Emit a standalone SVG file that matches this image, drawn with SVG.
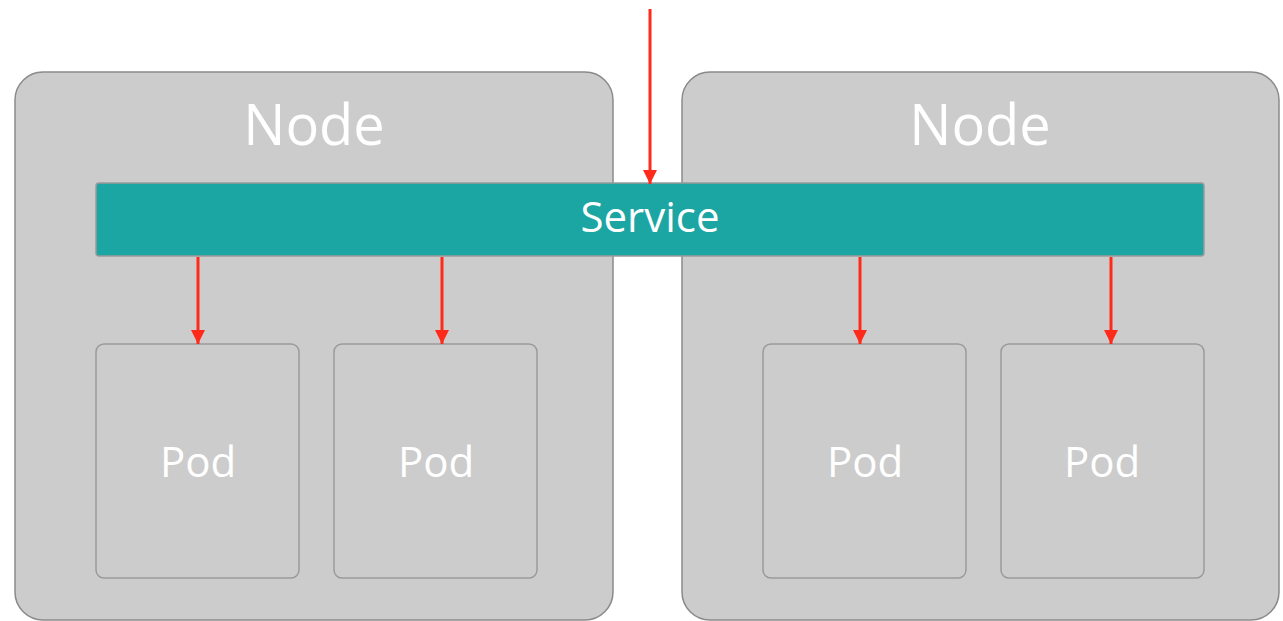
<svg xmlns="http://www.w3.org/2000/svg" width="1283" height="621" viewBox="0 0 1283 621">
<style>
.node{fill:#cccccc;stroke:#8a8a8a;stroke-width:1.5}
.pod{fill:#cccccc;stroke:#9a9a9a;stroke-width:1.5}
.svc{fill:#1ba5a3;stroke:#9a9a9a;stroke-width:1.5}
.t{font-family:"Open Sans","Noto Sans",sans-serif;fill:#ffffff;text-anchor:middle}
.a{stroke:#ff2a1a;stroke-width:3;fill:none;marker-end:url(#ah)}
</style>
<defs>
<marker id="ah" markerUnits="userSpaceOnUse" markerWidth="14" markerHeight="14" refX="14" refY="7" orient="auto" viewBox="0 0 14 14">
<path d="M0,0 L14,7 L0,14 Z" fill="#ff2a1a"/>
</marker>
</defs>
<rect width="1283" height="621" fill="#ffffff"/>
<g id="node-left">
<rect class="node" x="15" y="72" width="598" height="548" rx="28"/>
<text class="t" x="314" y="145" font-size="56">Node</text>
</g>
<g id="node-right">
<rect class="node" x="682" y="72" width="597" height="548" rx="28"/>
<text class="t" x="980" y="145" font-size="56">Node</text>
</g>
<g id="service">
<rect class="svc" x="96" y="183" width="1108" height="73" rx="3"/>
<text class="t" x="650" y="232" font-size="42">Service</text>
</g>
<g id="pod1">
<rect class="pod" x="96" y="344" width="203" height="234" rx="8"/>
<text class="t" x="198" y="477" font-size="42">Pod</text>
</g>
<g id="pod2">
<rect class="pod" x="334" y="344" width="203" height="234" rx="8"/>
<text class="t" x="436" y="477" font-size="42">Pod</text>
</g>
<g id="pod3">
<rect class="pod" x="763" y="344" width="203" height="234" rx="8"/>
<text class="t" x="865" y="477" font-size="42">Pod</text>
</g>
<g id="pod4">
<rect class="pod" x="1001" y="344" width="203" height="234" rx="8"/>
<text class="t" x="1102" y="477" font-size="42">Pod</text>
</g>
<g id="connectors">
<line class="a" x1="650" y1="9" x2="650" y2="184"/>
<line class="a" x1="198" y1="257" x2="198" y2="344"/>
<line class="a" x1="442" y1="257" x2="442" y2="344"/>
<line class="a" x1="860" y1="257" x2="860" y2="344"/>
<line class="a" x1="1111" y1="257" x2="1111" y2="344"/>
</g>
</svg>
